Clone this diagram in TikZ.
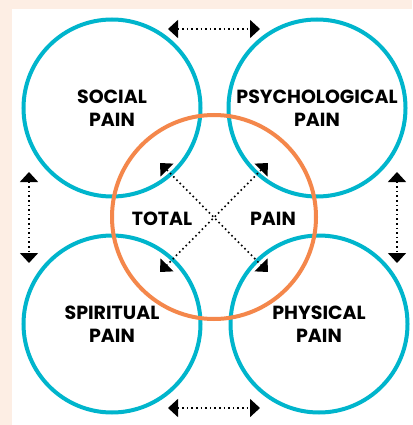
\documentclass[tikz,border=0pt]{standalone}
\usepackage{fontspec}
\setmainfont{Poppins}
\usetikzlibrary{arrows.meta}
\definecolor{mycyan}{RGB}{0, 181, 204}
\definecolor{myorange}{RGB}{244, 135, 75}
\definecolor{mypeach}{RGB}{253, 238, 228}
\tikzset{>={Triangle[length=10pt,width=18pt]}}
\tikzset{pain/.style={circle, draw=mycyan, line width=4pt, minimum size=177pt, inner sep=0pt, align=center, font=\bfseries\fontsize{19}{23}\selectfont},
  link/.style={<->, line width=1.6pt, dash pattern=on 1.6pt off 3pt}}
\begin{document}
\begin{tikzpicture}[x=1pt,y=-1pt]
\fill[mypeach] (0,0) rectangle (412,425);
\fill[white] (12,9) rectangle (412,425);
% the four kinds of pain
\node[pain] (social) at (112,108) {SOCIAL\\PAIN};
\node[pain] (psycho) at (317,108) {PSYCHOLOGICAL\\PAIN};
\node[pain] (spirit) at (112,324) {SPIRITUAL\\PAIN};
\node[pain] (physic) at (319,324) {PHYSICAL\\PAIN};
% total pain in the middle
\node[circle, draw=myorange, line width=4pt, minimum size=204pt, inner sep=0pt] (total) at (214,217) {};
\node[font=\bfseries\fontsize{19}{19}\selectfont] (tword) at (162,219) {TOTAL};
\node[font=\bfseries\fontsize{19}{19}\selectfont] (pword) at (273,219) {PAIN};
% arrows
\coordinate (a1) at (168,29);  \coordinate (a2) at (260,29);
\coordinate (b1) at (168,408); \coordinate (b2) at (260,408);
\coordinate (c1) at (29,172);  \coordinate (c2) at (29,263);
\coordinate (d1) at (397,172); \coordinate (d2) at (397,263);
\coordinate (e1) at (160,163); \coordinate (e2) at (268,272);
\coordinate (f1) at (268,163); \coordinate (f2) at (160,272);
\draw[link] (a1) -- (a2);
\draw[link] (b1) -- (b2);
\draw[link] (c1) -- (c2);
\draw[link] (d1) -- (d2);
\draw[link] (e1) -- (e2);
\draw[link] (f1) -- (f2);
\end{tikzpicture}
\end{document}
